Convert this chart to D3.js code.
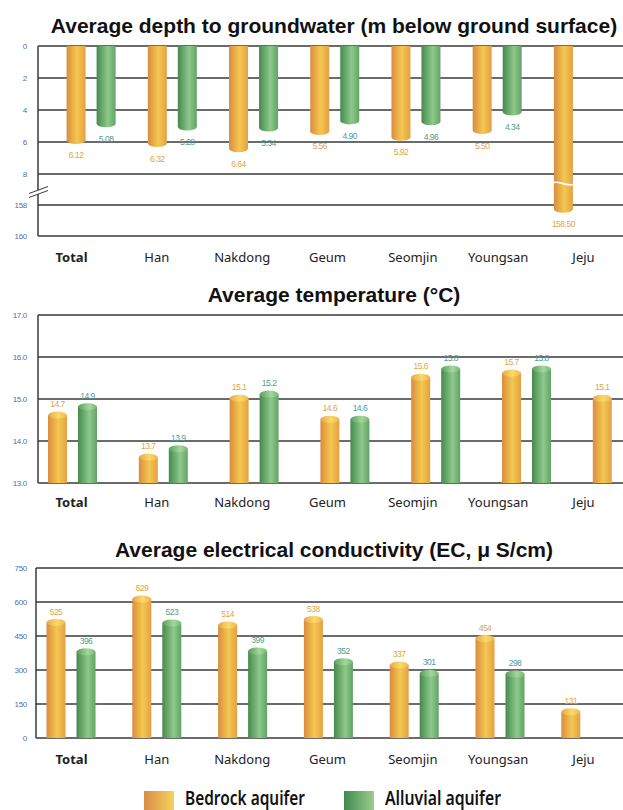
<!DOCTYPE html>
<html>
<head>
<meta charset="utf-8">
<script src="https://cdn.jsdelivr.net/npm/d3@7"></script>
<style>
  html, body { margin: 0; padding: 0; background: #fff; }
  svg { display: block; }
</style>
</head>
<body>
<script>
// categories and values
var categories    = [ 'Total', 'Han', 'Nakdong', 'Geum', 'Seomjin', 'Youngsan', 'Jeju' ];

var depthBedrock  = [ 6.12, 6.32, 6.64, 5.56, 5.92, 5.50, 158.50 ];
var depthAlluvial = [ 5.08, 5.28, 5.34, 4.90, 4.96, 4.34, null ];
var depthTicks    = [ 0, 2, 4, 6, 8, 158, 160 ];

var tempBedrock   = [ 14.7, 13.7, 15.1, 14.6, 15.6, 15.7, 15.1 ];
var tempAlluvial  = [ 14.9, 13.9, 15.2, 14.6, 15.8, 15.8, null ];
var tempTicks     = [ 13.0, 14.0, 15.0, 16.0, 17.0 ];

var ecBedrock     = [ 525, 629, 514, 538, 337, 454, 131 ];
var ecAlluvial    = [ 396, 523, 399, 352, 301, 298, null ];
var ecTicks       = [ 0, 150, 300, 450, 600, 750 ];

var seriesNames   = [ 'Bedrock aquifer', 'Alluvial aquifer' ];

var W = 623, H = 810;

var svg = d3.select( 'body' ).append( 'svg' )
  .attr( 'width', W ).attr( 'height', H )
  .attr( 'viewBox', '0 0 ' + W + ' ' + H );

// gradients for the cylinders
var defs = svg.append( 'defs' );
function grad( id, stops ) {
  var g = defs.append( 'linearGradient' ).attr( 'id', id )
    .attr( 'x1', '0' ).attr( 'x2', '1' ).attr( 'y1', '0' ).attr( 'y2', '0' );
  stops.forEach( function( s ) {
    g.append( 'stop' ).attr( 'offset', s[0] ).attr( 'stop-color', s[1] );
  });
}
grad( 'gBed',    [ [0, '#da8c3e'], [0.55, '#f4c850'], [1, '#e4a044'] ] );
grad( 'gBedCap', [ [0, '#e8a64a'], [0.55, '#f9da6a'], [1, '#efb650'] ] );
grad( 'gAll',    [ [0, '#478a4e'], [0.6, '#8dc98a'], [1, '#62a365'] ] );
grad( 'gAllCap', [ [0, '#5a9c5e'], [0.6, '#a3d89c'], [1, '#76b676'] ] );
grad( 'gBedLeg', [ [0, '#d98e45'], [1, '#f4d25e'] ] );
grad( 'gAllLeg', [ [0, '#3f8a4e'], [1, '#9dcc8e'] ] );

var fills    = [ 'url(#gBed)', 'url(#gAll)' ];
var capFills = [ 'url(#gBedCap)', 'url(#gAllCap)' ];
var valColor = [ '#e0a445', '#4e9e8e' ];

// x for category labels (same for all three panels)
var labelX = d3.scalePoint().domain( categories ).range( [ 71, 583 ] );

var panels = [
  {
    title: 'Average depth to groundwater (m below ground surface)', titleY: 33,
    series: [ depthBedrock, depthAlluvial ], ticks: depthTicks,
    y: d3.scaleLinear().domain( [ 0, 8, 158, 160 ] ).range( [ 46, 174, 205, 236 ] ),
    xRange: [ 50.5, 619 ], left: 38, catY: 266, hang: true,
    tickFmt: d3.format( 'd' ), valFmt: d3.format( '.2f' )
  },
  {
    title: 'Average temperature (\u00B0C)', titleY: 302,
    series: [ tempBedrock, tempAlluvial ], ticks: tempTicks,
    y: d3.scaleLinear().domain( [ 13, 17 ] ).range( [ 483, 315 ] ),
    xRange: [ 27.1, 662.7 ], left: 38, catY: 511, hang: false,
    tickFmt: d3.format( '.1f' ), valFmt: d3.format( '.1f' )
  },
  {
    title: 'Average electrical conductivity (EC, \u03BC S/cm)', titleY: 557,
    series: [ ecBedrock, ecAlluvial ], ticks: ecTicks,
    y: d3.scaleLinear().domain( [ 0, 750 ] ).range( [ 738, 568 ] ),
    xRange: [ 28.1, 628.7 ], left: 36, catY: 768, hang: false,
    tickFmt: d3.format( 'd' ), valFmt: d3.format( 'd' )
  }
];

var barW = 19, offs = [ -24.5, 5.5 ], ry = 3.5;

panels.forEach( function( p ) {
  var g = svg.append( 'g' );
  var y = p.y;
  var x = d3.scaleBand().domain( categories ).range( p.xRange );
  var yTop = d3.min( y.range() ), yBot = d3.max( y.range() );

  // title
  g.append( 'text' )
    .attr( 'x', 334 ).attr( 'y', p.titleY )
    .attr( 'text-anchor', 'middle' )
    .attr( 'font-family', 'Liberation Sans, Arial, sans-serif' )
    .attr( 'font-weight', 'bold' ).attr( 'font-size', 21 )
    .attr( 'fill', '#111' )
    .text( p.title );

  // grid lines
  g.selectAll( '.grid' ).data( p.ticks ).enter().append( 'line' )
    .attr( 'x1', p.left ).attr( 'x2', W )
    .attr( 'y1', function( d ) { return y( d ); } )
    .attr( 'y2', function( d ) { return y( d ); } )
    .attr( 'stroke', '#3a3a3a' ).attr( 'stroke-width', 1.3 );

  g.append( 'line' )
    .attr( 'x1', p.left ).attr( 'x2', p.left )
    .attr( 'y1', yTop ).attr( 'y2', yBot )
    .attr( 'stroke', '#3a3a3a' ).attr( 'stroke-width', 1.5 );

  // tick labels
  g.selectAll( '.tick' ).data( p.ticks ).enter().append( 'text' )
    .attr( 'x', 27 ).attr( 'y', function( d ) { return y( d ) + 3; } )
    .attr( 'text-anchor', 'end' )
    .attr( 'font-family', 'Liberation Sans, Arial, sans-serif' )
    .attr( 'font-size', 8 ).attr( 'letter-spacing', -0.3 )
    .attr( 'fill', '#4f6fa6' )
    .text( function( d ) { return p.tickFmt( d ); } );

  // bars
  p.series.forEach( function( vals, si ) {
    var data = categories.map( function( c, i ) { return { c: c, v: vals[ i ] }; } )
      .filter( function( d ) { return d.v != null; } );
    var bx = function( d ) { return x( d.c ) + x.bandwidth() / 2 + offs[ si ]; };
    var base = y( p.y.domain()[0] );

    var bars = g.selectAll( '.bar' + si ).data( data ).enter().append( 'g' );

    bars.append( 'rect' )
      .attr( 'x', bx ).attr( 'width', barW )
      .attr( 'y', function( d ) { return p.hang ? base : y( d.v ) + ry; } )
      .attr( 'height', function( d ) {
        return p.hang ? Math.max( 0, y( d.v ) - ry - base ) : base - y( d.v ) - ry;
      })
      .attr( 'fill', fills[ si ] );

    bars.append( 'ellipse' )
      .attr( 'cx', function( d ) { return bx( d ) + barW / 2; } )
      .attr( 'cy', function( d ) { return p.hang ? y( d.v ) - ry : y( d.v ) + ry; } )
      .attr( 'rx', barW / 2 ).attr( 'ry', ry )
      .attr( 'fill', p.hang ? fills[ si ] : capFills[ si ] );

    bars.append( 'text' )
      .attr( 'x', function( d ) { return bx( d ) + barW / 2; } )
      .attr( 'y', function( d ) { return p.hang ? y( d.v ) + 14.5 : y( d.v ) - 4.5; } )
      .attr( 'text-anchor', 'middle' )
      .attr( 'font-family', 'Liberation Sans, Arial, sans-serif' )
      .attr( 'font-size', 8.5 ).attr( 'letter-spacing', -0.5 )
      .attr( 'fill', valColor[ si ] )
      .text( function( d ) { return p.valFmt( d.v ); } );

    // break wave on the long Jeju bar
    if ( p.hang ) {
      bars.filter( function( d ) { return d.v > 8; } ).append( 'path' )
        .attr( 'd', function( d ) {
          var x0 = bx( d ), yy = ( y( 8 ) + y( 158 ) ) / 2 - 6;
          return 'M' + x0 + ',' + ( yy - 1 ) + ' C' + ( x0 + 5 ) + ',' + ( yy - 3 ) + ' ' +
            ( x0 + 12 ) + ',' + ( yy + 3 ) + ' ' + ( x0 + barW ) + ',' + ( yy + 1 );
        })
        .attr( 'fill', 'none' ).attr( 'stroke', '#fff' ).attr( 'stroke-width', 1.6 );
    }
  });

  // axis break mark
  if ( p.hang ) {
    var by = ( y( 8 ) + y( 158 ) ) / 2 + 2;
    g.append( 'path' )
      .attr( 'd', 'M29,' + ( by + 2 ) + ' L48,' + ( by - 5 ) + ' L48,' + ( by - 1 ) + ' L29,' + ( by + 6 ) + 'Z' )
      .attr( 'fill', '#fff' );
    [ 0, 4 ].forEach( function( o ) {
      g.append( 'line' )
        .attr( 'x1', 29 ).attr( 'y1', by + 2 + o )
        .attr( 'x2', 48 ).attr( 'y2', by - 5 + o )
        .attr( 'stroke', '#3a3a3a' ).attr( 'stroke-width', 1 );
    });
  }

  // category labels
  var cat = g.append( 'g' )
    .attr( 'transform', 'translate(0,' + ( p.catY - 13 ) + ')' )
    .call( d3.axisBottom( labelX ).tickSize( 0 ).tickPadding( 0 ) );
  cat.select( '.domain' ).remove();
  cat.selectAll( 'text' )
    .attr( 'font-family', 'Noto Sans, Open Sans, sans-serif' )
    .attr( 'font-size', 13 )
    .attr( 'fill', '#222' )
    .attr( 'dy', '0.71em' )
    .attr( 'font-weight', function( d ) { return d === 'Total' ? 'bold' : 'normal'; } );
});

// legend
var legX = [ 144, 344 ], legFill = [ 'url(#gBedLeg)', 'url(#gAllLeg)' ], legLen = [ 120, 116 ];
seriesNames.forEach( function( n, i ) {
  svg.append( 'rect' )
    .attr( 'x', legX[ i ] ).attr( 'y', 791 )
    .attr( 'width', 30 ).attr( 'height', 19 )
    .attr( 'fill', legFill[ i ] );
  svg.append( 'text' )
    .attr( 'x', legX[ i ] + 41 ).attr( 'y', 805 )
    .attr( 'font-family', 'Noto Sans, Open Sans, sans-serif' )
    .attr( 'font-weight', 600 ).attr( 'font-size', 19 )
    .attr( 'textLength', legLen[ i ] ).attr( 'lengthAdjust', 'spacingAndGlyphs' )
    .attr( 'fill', '#111' )
    .text( n );
});
</script>
</body>
</html>
